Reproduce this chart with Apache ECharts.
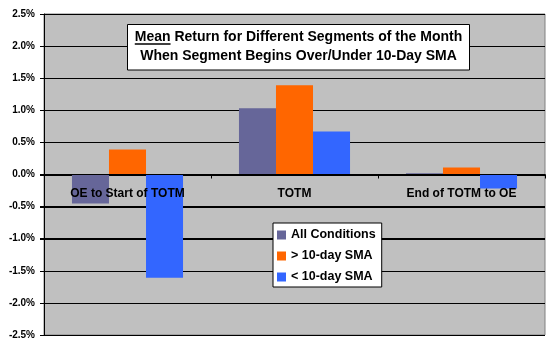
<!DOCTYPE html>
<html>
<head>
<meta charset="utf-8">
<script src="https://cdn.jsdelivr.net/npm/echarts@6/dist/echarts.min.js"></script>
<style>
html,body{margin:0;padding:0;background:#fff;}
#chart{width:550px;height:350px;}
</style>
</head>
<body>
<div id="chart"></div>
<script>
var categories = ['OE to Start of TOTM', 'TOTM', 'End of TOTM to OE'];
var allConditions = [-0.45, 1.03, 0.02];
var aboveSMA = [0.39, 1.39, 0.11];
var belowSMA = [-1.61, 0.67, -0.22];
var seriesNames = ['All Conditions', '> 10-day SMA', '< 10-day SMA'];
var seriesColors = ['#666699', '#FF6600', '#3366FF'];
var yTicks = [-2.5, -2.0, -1.5, -1.0, -0.5, 0.0, 0.5, 1.0, 1.5, 2.0, 2.5];
var titleLine1Underlined = 'Mean';
var titleLine1Rest = ' Return for Different Segments of the Month';
var titleLine2 = 'When Segment Begins Over/Under 10-Day SMA';
var yMin = -2.5, yMax = 2.5, yInterval = 0.5;

var font = '"Liberation Sans", Arial, sans-serif';
var ctx = document.createElement('canvas').getContext('2d');
ctx.font = 'bold 14px ' + font;
var fullW = ctx.measureText(titleLine1Underlined + titleLine1Rest).width;
var meanW = ctx.measureText(titleLine1Underlined).width;
var cx = 298.5;
var line1Left = cx - fullW / 2;

var gridLeft = 44, gridRight = 5, gridTop = 14, gridBottom = 15, chartW = 550, chartH = 350;
var plotH = chartH - gridTop - gridBottom;
var plotW = chartW - gridLeft - gridRight;
var zeroOffset = -plotH * (0 - yMin) / (yMax - yMin);

var chart = echarts.init(document.getElementById('chart'), null, {renderer: 'canvas'});
var dataSets = [allConditions, aboveSMA, belowSMA];

var innerTicks = yTicks.filter(function (v) { return v > yMin && v < yMax; });

var series = seriesNames.map(function (n, i) {
  var s = {
    name: n, type: 'bar', data: dataSets[i], z: 2,
    itemStyle: {color: seriesColors[i]},
    barGap: '0%', barCategoryGap: '33.5%'
  };
  if (i === 0) {
    s.markLine = {
      silent: true, z: 1, animation: false,
      symbol: ['none', 'none'],
      label: {show: false},
      emphasis: {disabled: true},
      lineStyle: {color: '#000000', width: 1, type: 'solid', opacity: 1},
      data: innerTicks.map(function (v) { return {yAxis: v}; })
    };
  }
  return s;
});

var baseGraphic = [
  {
    type: 'rect', z: -100, silent: true,
    shape: {x: gridLeft, y: gridTop, width: plotW, height: plotH},
    style: {fill: '#C0C0C0'}
  },
  {
    type: 'rect', z: 100,
    shape: {x: 127.5, y: 24.5, width: 342, height: 45.5},
    style: {fill: '#ffffff', stroke: '#000000', lineWidth: 1}
  },
  {
    type: 'text', z: 101,
    x: line1Left, y: 37,
    style: {text: titleLine1Underlined + titleLine1Rest, font: 'bold 14px ' + font, fill: '#000', align: 'left', verticalAlign: 'middle'}
  },
  {
    type: 'line', z: 101,
    shape: {x1: line1Left, y1: 44, x2: line1Left + meanW, y2: 44},
    style: {stroke: '#000', lineWidth: 1.5}
  },
  {
    type: 'text', z: 101,
    x: cx, y: 56,
    style: {text: titleLine2, font: 'bold 14px ' + font, fill: '#000', align: 'center', verticalAlign: 'middle'}
  }
];

var option = {
  backgroundColor: '#ffffff',
  animation: false,
  tooltip: {show: false},
  grid: {
    left: gridLeft, right: gridRight, top: gridTop, bottom: gridBottom,
    show: true, backgroundColor: 'transparent', borderColor: '#808080', borderWidth: 1
  },
  legend: {
    orient: 'vertical',
    left: 273, top: 223,
    data: seriesNames,
    icon: 'rect',
    itemWidth: 9, itemHeight: 9, itemGap: 7,
    backgroundColor: '#ffffff', borderColor: '#000000', borderWidth: 1,
    borderRadius: 0,
    padding: [5, 6, 3, 4],
    textStyle: {fontFamily: font, fontWeight: 'bold', fontSize: 12.5, color: '#000', lineHeight: 14},
    itemStyle: {borderWidth: 0}
  },
  xAxis: {
    type: 'category',
    data: categories,
    offset: zeroOffset,
    z: 5,
    axisLine: {show: true, onZero: false, lineStyle: {color: '#000000', width: 1}},
    axisTick: {show: true, length: 4, lineStyle: {color: '#000'}},
    axisLabel: {color: '#000', fontFamily: font, fontWeight: 'bold', fontSize: 12, margin: 13},
    splitLine: {show: false}
  },
  yAxis: {
    type: 'value',
    min: yMin, max: yMax, interval: yInterval,
    axisLine: {show: true, lineStyle: {color: '#000', width: 1}},
    axisTick: {show: true, length: 4, lineStyle: {color: '#000', width: 1}},
    axisLabel: {
      color: '#000', fontFamily: font, fontWeight: 'bold', fontSize: 10, margin: 9,
      formatter: function (v) { return v.toFixed(1) + '%'; }
    },
    splitLine: {show: true, lineStyle: {color: '#000', width: 1}}
  },
  series: series,
  graphic: baseGraphic
};
chart.setOption(option);

function yPix(v) {
  var p = chart.convertToPixel({yAxisIndex: 0}, v);
  if (Array.isArray(p)) { p = p[1]; }
  if (typeof p !== 'number' || !isFinite(p)) {
    p = gridTop + plotH * (yMax - v) / (yMax - yMin);
  }
  return Math.round(p) + 0.5;
}

var gridGraphic = [];
yTicks.forEach(function (v) {
  var y = yPix(v);
  var isEdge = v <= yMin || v >= yMax;
  gridGraphic.push({
    type: 'line', z: 1, silent: true,
    shape: {x1: gridLeft - 4, y1: y, x2: isEdge ? gridLeft : gridLeft + plotW, y2: y},
    style: {stroke: '#000000', lineWidth: 1}
  });
});
chart.setOption({graphic: baseGraphic.concat(gridGraphic)});
</script>
</body>
</html>
